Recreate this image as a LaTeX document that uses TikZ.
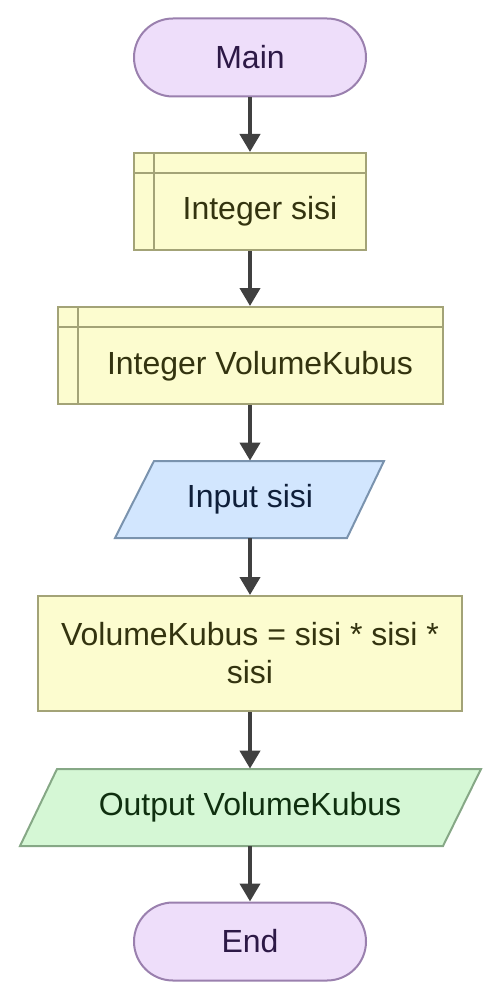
\documentclass[tikz,border=0pt]{standalone}
\usepackage{fontspec}
\setmainfont{Liberation Sans}
\usetikzlibrary{arrows.meta,calc}
\definecolor{termfill}{HTML}{EEDEFA}
\definecolor{termline}{HTML}{9A80AE}
\definecolor{termtext}{HTML}{2D1946}
\definecolor{yfill}{HTML}{FCFCCF}
\definecolor{yline}{HTML}{A3A377}
\definecolor{ytext}{HTML}{33330F}
\definecolor{bfill}{HTML}{D2E6FE}
\definecolor{bline}{HTML}{7A93AE}
\definecolor{btext}{HTML}{0F1F3A}
\definecolor{gfill}{HTML}{D5F7D5}
\definecolor{gline}{HTML}{86A886}
\definecolor{gtext}{HTML}{0F2F0F}
\definecolor{arrowc}{HTML}{404040}
\tikzset{
  lbl/.style={font=\fontsize{16}{19}\selectfont, inner sep=0pt, align=center},
  term/.style={lbl, draw=termline, fill=termfill, line width=1pt, text=termtext,
    minimum width=116pt, minimum height=39pt, rounded corners=19.5pt},
  declbox/.style={draw=yline, fill=yfill, line width=1pt, inner sep=0pt},
  proc/.style={lbl, draw=yline, fill=yfill, line width=1pt, text=ytext},
  iobox/.style={lbl, minimum height=38.5pt},
  flow/.style={draw=arrowc, line width=2pt, -{Triangle[length=9pt,width=10pt]}}
}
\begin{document}
\begin{tikzpicture}[x=0.5pt,y=-0.5pt]
\useasboundingbox (0,0) rectangle (500,1000);
% Main
\node[term] (main) at (250,57.5) {Main};
% Integer sisi
\node[declbox, minimum width=116pt, minimum height=48.5pt] (d1) at (250,201.5) {};
\draw[yline, line width=1pt] (154,153) -- (154,250) (134,173) -- (366,173);
\node[lbl, text=ytext] (d1t) at (260,211.5) {Integer sisi};
% Integer VolumeKubus
\node[declbox, minimum width=192.5pt, minimum height=48.5pt] (d2) at (250,355.5) {};
\draw[yline, line width=1pt] (77.5,307) -- (77.5,404) (57.5,327) -- (442.5,327);
\node[lbl, text=ytext] (d2t) at (260,366) {Integer VolumeKubus};
% Input
\filldraw[draw=bline, fill=bfill, line width=1pt] (154,461) -- (384,461) -- (347,538) -- (115,538) -- cycle;
\node[iobox, text=btext, minimum width=115pt] (inp) at (250,499.5) {Input sisi};
% Process
\node[proc, minimum width=212pt, minimum height=57.5pt] (proc) at (250,653.5) {VolumeKubus = sisi * sisi *\\sisi};
% Output
\filldraw[draw=gline, fill=gfill, line width=1pt] (57,769) -- (481,769) -- (443,846) -- (20,846) -- cycle;
\node[iobox, text=gtext, minimum width=200pt] (out) at (250,807.5) {Output VolumeKubus};
% End
\node[term] (end) at (250,941.5) {End};
% connectors
\draw[flow] (main) -- (d1);
\draw[flow] (d1) -- (d2);
\draw[flow] (d2) -- (inp);
\draw[flow] (inp) -- (proc);
\draw[flow] (proc) -- (out);
\draw[flow] (out) -- (end);
\end{tikzpicture}
\end{document}
